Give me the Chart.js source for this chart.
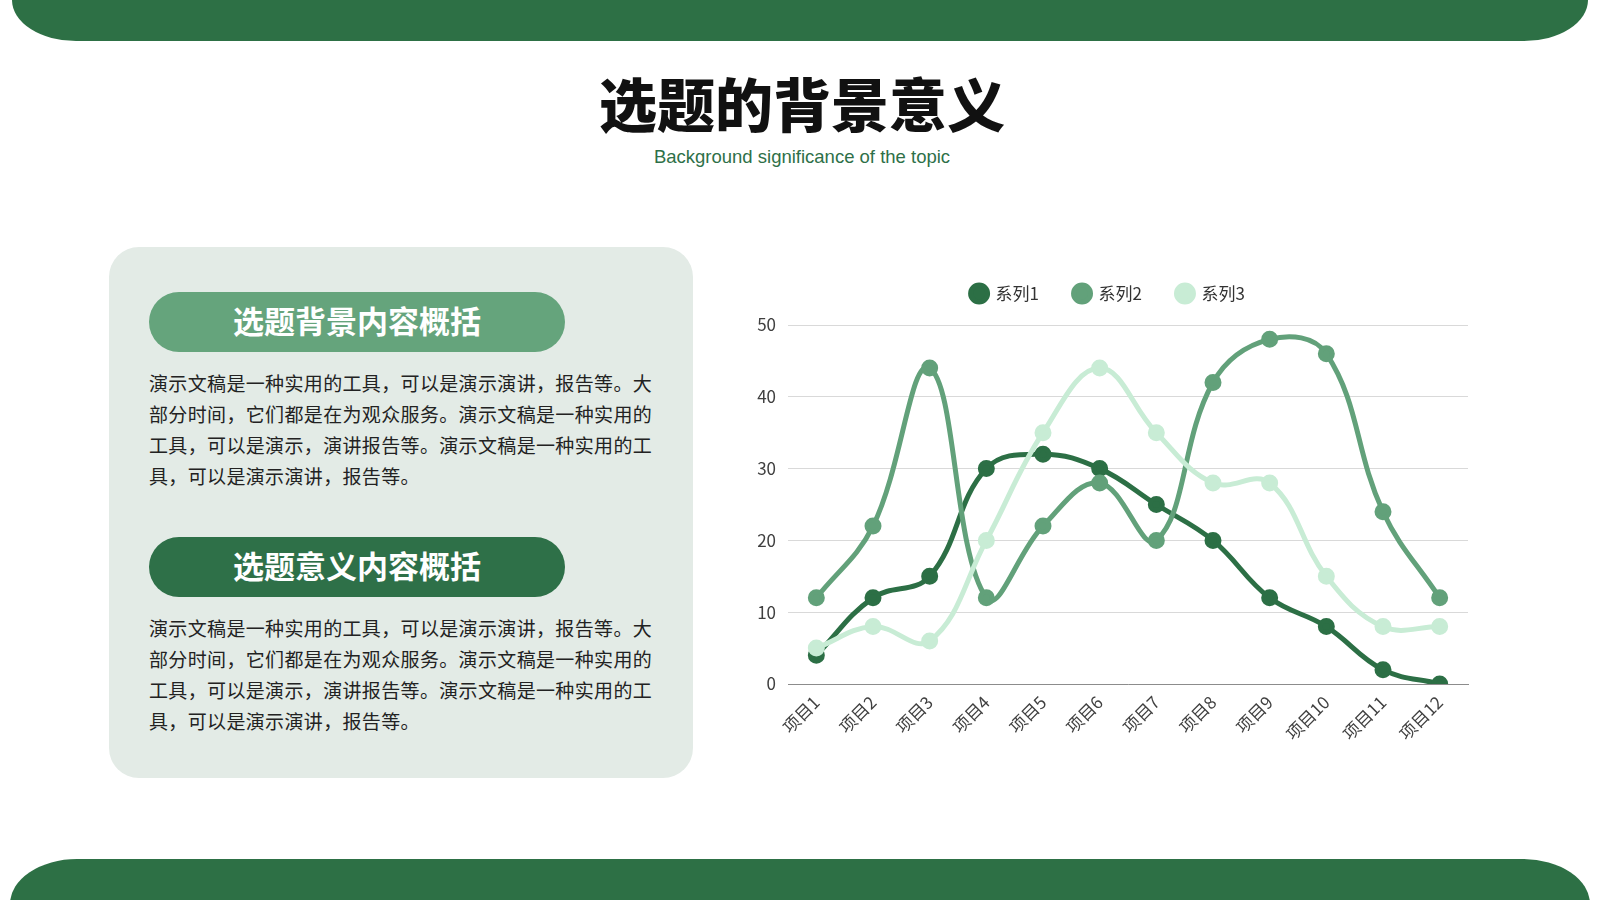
<!DOCTYPE html>
<html lang="zh-CN">
<head>
<meta charset="utf-8">
<title>选题的背景意义</title>
<script src="https://cdn.jsdelivr.net/npm/chart.js@4.4.1/dist/chart.umd.min.js"></script>
<style>
  html, body { margin: 0; padding: 0; }
  body {
    width: 1600px; height: 900px; overflow: hidden; position: relative;
    background: #ffffff;
    font-family: "Noto Sans CJK SC", "Noto Sans", sans-serif;
  }
  .bar-top {
    position: absolute; left: 12px; top: 0; width: 1576px; height: 41px;
    background: #2d7045;
    border-radius: 0 0 64px 64px / 0 0 41px 41px;
  }
  .bar-bottom {
    position: absolute; left: 10px; top: 859px; width: 1580px; height: 80px;
    background: #2d7045;
    border-radius: 67px 67px 0 0 / 45px 45px 0 0;
  }
  .title {
    position: absolute; left: 0; width: 1604px; top: 71px;
    text-align: center; font-size: 58px; line-height: 62px; font-weight: 900;
    color: #111;
  }
  .subtitle {
    position: absolute; left: 0; width: 1604px; top: 146px;
    text-align: center; font-family: "Liberation Sans", Arial, sans-serif;
    font-size: 18.5px; line-height: 22px; color: #2e7048;
  }
  .card {
    position: absolute; left: 109px; top: 247px; width: 584px; height: 531px;
    background: #e3ebe6; border-radius: 30px;
  }
  .pill {
    position: absolute; left: 149px; width: 416px; height: 60px;
    border-radius: 30px; color: #fff; text-align: center;
    font-size: 31px; font-weight: 700; line-height: 56px;
  }
  .pill.light { top: 292px; background: #65a47c; }
  .pill.dark { top: 537px; background: #2e7048; }
  .para {
    position: absolute; left: 149px; width: 530px;
    font-size: 19px; line-height: 31px; letter-spacing: 0.35px; color: #222;
  }
  .para.p1 { top: 367px; }
  .para.p2 { top: 612px; }
  .chart-box {
    position: absolute; left: 740px; top: 250px; width: 740px; height: 500px;
  }
</style>
</head>
<body>
<div class="bar-top"></div>
<div class="bar-bottom"></div>

<div class="title">选题的背景意义</div>
<div class="subtitle">Background significance of the topic</div>

<div class="card"></div>
<div class="pill light">选题背景内容概括</div>
<div class="para p1">演示文稿是一种实用的工具，可以是演示演讲，报告等。大<br>部分时间，它们都是在为观众服务。演示文稿是一种实用的<br>工具，可以是演示，演讲报告等。演示文稿是一种实用的工<br>具，可以是演示演讲，报告等。</div>
<div class="pill dark">选题意义内容概括</div>
<div class="para p2">演示文稿是一种实用的工具，可以是演示演讲，报告等。大<br>部分时间，它们都是在为观众服务。演示文稿是一种实用的<br>工具，可以是演示，演讲报告等。演示文稿是一种实用的工<br>具，可以是演示演讲，报告等。</div>

<div class="chart-box"><canvas id="lineChart"></canvas></div>

<script>
// data
const categories = ['项目1', '项目2', '项目3', '项目4', '项目5', '项目6',
  '项目7', '项目8', '项目9', '项目10', '项目11', '项目12'];
const seriesNames = ['系列1', '系列2', '系列3'];
const series1 = [4, 12, 15, 30, 32, 30, 25, 20, 12, 8, 2, 0];
const series2 = [12, 22, 44, 12, 22, 28, 20, 42, 48, 46, 24, 12];
const series3 = [5, 8, 6, 20, 35, 44, 35, 28, 28, 15, 8, 8];
const yTicks = [0, 10, 20, 30, 40, 50];

const colors = ['#2c6f45', '#62a17a', '#c8ecd5'];
const tickColor = '#404040';
const cjk = '"Noto Sans CJK SC", sans-serif';

function makeSet(i, data) {
  return {
    label: seriesNames[i],
    data,
    borderColor: colors[i],
    backgroundColor: colors[i],
    pointBackgroundColor: colors[i],
    pointBorderColor: colors[i],
    borderWidth: 5,
    pointRadius: 6,
    pointHoverRadius: 6,
    tension: 0.4,
    fill: false,
    // later series sit on top, like the original
    order: 3 - i,
  };
}

// extra room between the legend and the plot, and nudge it a bit right
const legendGap = {
  id: 'legendGap',
  beforeInit(chart) {
    const fit = chart.legend.fit;
    chart.legend.fit = function () {
      fit.bind(chart.legend)();
      this.height += 13;
    };
  },
  afterLayout(chart) {
    chart.legend.left += 4;
    chart.legend.right += 4;
  },
};

new Chart(document.getElementById('lineChart'), {
  type: 'line',
  data: {
    labels: categories,
    datasets: [makeSet(0, series1), makeSet(1, series2), makeSet(2, series3)],
  },
  plugins: [legendGap],
  options: {
    responsive: true,
    maintainAspectRatio: false,
    animation: false,
    layout: { padding: { top: 0, right: 12, bottom: 0, left: 0 } },
    plugins: {
      legend: {
        position: 'top',
        labels: {
          usePointStyle: true,
          pointStyle: 'circle',
          boxWidth: 16,
          boxHeight: 12,
          padding: 35,
          color: '#333',
          font: { family: cjk, size: 17 },
          sort: (a, b) => a.datasetIndex - b.datasetIndex,
        },
      },
      tooltip: { enabled: false },
    },
    scales: {
      x: {
        offset: true,
        grid: { display: false, drawTicks: false },
        border: { display: true, color: '#8c8c8c', width: 1 },
        ticks: {
          color: tickColor,
          maxRotation: 45,
          minRotation: 45,
          padding: 8,
          autoSkip: false,
          font: { family: cjk, size: 17 },
        },
        afterFit: s => { s.height = 66; },
      },
      y: {
        min: 0,
        max: 50,
        afterBuildTicks: s => { s.ticks = yTicks.map(v => ({ value: v })); },
        grid: { color: '#d9d9d9', lineWidth: 1, drawTicks: false },
        border: { display: false },
        ticks: {
          color: tickColor,
          padding: 12,
          font: { family: cjk, size: 17 },
        },
        afterFit: s => { s.width = 48; },
      },
    },
  },
});
</script>
</body>
</html>
